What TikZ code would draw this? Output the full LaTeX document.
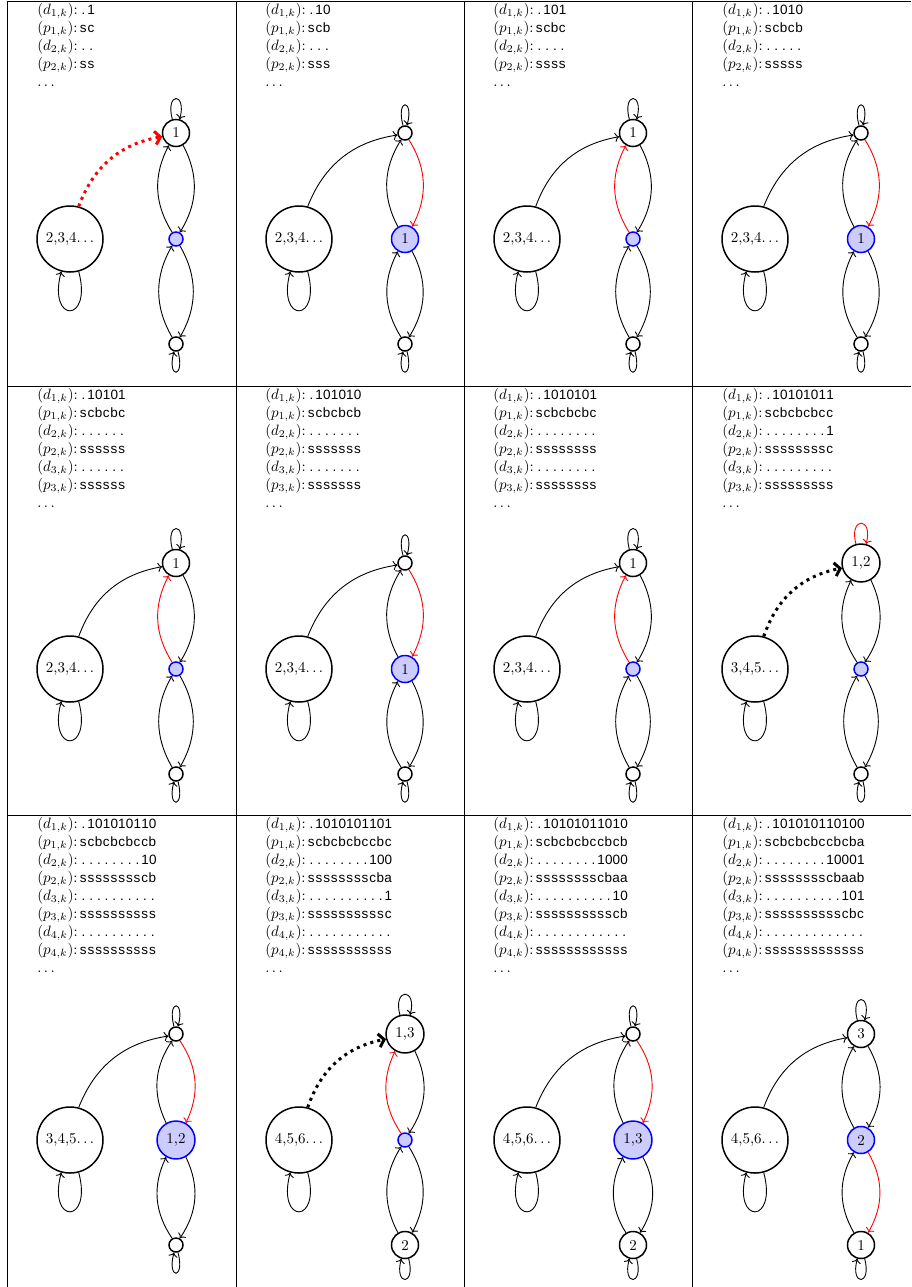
\documentclass[tikz,border=0pt]{standalone}
\usepackage{fontspec}
\newfontfamily\seqfont{Liberation Sans}
\usetikzlibrary{arrows.meta}
\newlength\sqw \setlength\sqw{5.13pt}
\newcommand\sq[1]{\kern1.2pt{\seqfont\fontsize{9}{12}\selectfont\sqloop#1\relax}}
\def\sqloop#1{\ifx\relax#1\else\makebox[\sqw][c]{#1}\expandafter\sqloop\fi}
\newcommand\etc{$\dots$}
\tikzset{
 base/.style={circle, draw, line width=1pt, inner sep=0pt, font=\fontsize{10}{12}\selectfont},
 sm/.style={base, minimum size=9.33pt},
 one/.style={base, minimum size=18pt},
 two/.style={base, minimum size=25.3pt},
 bigst/.style={base, minimum size=44pt},
 blst/.style={fill=blue!20, draw=blue},
 edge/.style={->, line width=0.6pt},
 ebig/.style={edge}, eup/.style={edge}, edn/.style={edge}, eup2/.style={edge}, edn2/.style={edge},
 ltop/.style={edge}, lbot/.style={edge}, lbig/.style={edge},
 dotbig/.style={line width=2pt, dash pattern=on 2pt off 2.8pt, -{Straight Barb[length=3.5pt,width=9pt,line width=2pt]}},
 hot/.style={edge, red},
 grid/.style={line width=0.6pt},
 hdr/.style={anchor=north west, align=left, inner sep=0pt, font=\fontsize{10}{12}\selectfont},
}
\newcommand\grph[8]{%
  \node[bigst] (#1big) at (63,-106) {#2};
  \node[#3] (#1top) at (169,0) {#4};
  \node[#5, blst] (#1mid) at (169,-106) {#6};
  \node[#7] (#1bot) at (169,-211) {#8};
  \draw[ebig] (#1big) to[bend left=30] (#1top);
  \draw[eup] (#1mid) to[bend left=30] (#1top);
  \draw[edn] (#1top) to[bend left=30] (#1mid);
  \draw[eup2] (#1bot) to[bend left=30] (#1mid);
  \draw[edn2] (#1mid) to[bend left=30] (#1bot);
  \draw[ltop] (#1top.105) .. controls +(105:19pt) and +(75:19pt) .. (#1top.75);
  \draw[lbot] (#1bot.-75) .. controls +(-75:19pt) and +(-105:19pt) .. (#1bot.-105);
  \draw[lbig] (#1big.-75) .. controls +(-75:36pt) and +(-105:36pt) .. (#1big.-105);
}
\begin{document}
\begin{tikzpicture}[x=0.6667pt, y=0.6667pt]
\useasboundingbox (0,0) rectangle (911,-1287);
% table rules
\draw[grid] (7,-1) -- (911,-1);
\draw[grid] (7,-386) -- (911,-386);
\draw[grid] (7,-815) -- (911,-815);
\foreach \x in {7,236,464,692} \draw[grid] (\x,-1) -- (\x,-1287);
% ---------- row 1 ----------
\node[hdr] (t1) at (37,-3) {$(d_{1,k})$:\sq{.1}\\$(p_{1,k})$:\sq{sc}\\$(d_{2,k})$:\sq{..}\\$(p_{2,k})$:\sq{ss}\\\etc};
\node[hdr] (t2) at (265,-3) {$(d_{1,k})$:\sq{.10}\\$(p_{1,k})$:\sq{scb}\\$(d_{2,k})$:\sq{...}\\$(p_{2,k})$:\sq{sss}\\\etc};
\node[hdr] (t3) at (493,-3) {$(d_{1,k})$:\sq{.101}\\$(p_{1,k})$:\sq{scbc}\\$(d_{2,k})$:\sq{....}\\$(p_{2,k})$:\sq{ssss}\\\etc};
\node[hdr] (t4) at (722,-3) {$(d_{1,k})$:\sq{.1010}\\$(p_{1,k})$:\sq{scbcb}\\$(d_{2,k})$:\sq{.....}\\$(p_{2,k})$:\sq{sssss}\\\etc};
\begin{scope}[shift={(7,-133)}, ebig/.style={dotbig, red}]
  \grph{pa}{2,3,4\etc}{one}{1}{sm}{}{sm}{}
\end{scope}
\begin{scope}[shift={(236,-133)}, edn/.style={hot}]
  \grph{pb}{2,3,4\etc}{sm}{}{one}{1}{sm}{}
\end{scope}
\begin{scope}[shift={(464,-133)}, eup/.style={hot}]
  \grph{pc}{2,3,4\etc}{one}{1}{sm}{}{sm}{}
\end{scope}
\begin{scope}[shift={(692,-133)}, edn/.style={hot}]
  \grph{pd}{2,3,4\etc}{sm}{}{one}{1}{sm}{}
\end{scope}
% ---------- row 2 ----------
\node[hdr] (t5) at (37,-388) {$(d_{1,k})$:\sq{.10101}\\$(p_{1,k})$:\sq{scbcbc}\\$(d_{2,k})$:\sq{......}\\$(p_{2,k})$:\sq{ssssss}\\$(d_{3,k})$:\sq{......}\\$(p_{3,k})$:\sq{ssssss}\\\etc};
\node[hdr] (t6) at (265,-388) {$(d_{1,k})$:\sq{.101010}\\$(p_{1,k})$:\sq{scbcbcb}\\$(d_{2,k})$:\sq{.......}\\$(p_{2,k})$:\sq{sssssss}\\$(d_{3,k})$:\sq{.......}\\$(p_{3,k})$:\sq{sssssss}\\\etc};
\node[hdr] (t7) at (493,-388) {$(d_{1,k})$:\sq{.1010101}\\$(p_{1,k})$:\sq{scbcbcbc}\\$(d_{2,k})$:\sq{........}\\$(p_{2,k})$:\sq{ssssssss}\\$(d_{3,k})$:\sq{........}\\$(p_{3,k})$:\sq{ssssssss}\\\etc};
\node[hdr] (t8) at (722,-388) {$(d_{1,k})$:\sq{.10101011}\\$(p_{1,k})$:\sq{scbcbcbcc}\\$(d_{2,k})$:\sq{........1}\\$(p_{2,k})$:\sq{ssssssssc}\\$(d_{3,k})$:\sq{.........}\\$(p_{3,k})$:\sq{sssssssss}\\\etc};
\begin{scope}[shift={(7,-563)}, eup/.style={hot}]
  \grph{pe}{2,3,4\etc}{one}{1}{sm}{}{sm}{}
\end{scope}
\begin{scope}[shift={(236,-563)}, edn/.style={hot}]
  \grph{pf}{2,3,4\etc}{sm}{}{one}{1}{sm}{}
\end{scope}
\begin{scope}[shift={(464,-563)}, eup/.style={hot}]
  \grph{pg}{2,3,4\etc}{one}{1}{sm}{}{sm}{}
\end{scope}
\begin{scope}[shift={(692,-563)}, ebig/.style={dotbig}, ltop/.style={hot}]
  \grph{ph}{3,4,5\etc}{two}{1,2}{sm}{}{sm}{}
\end{scope}
% ---------- row 3 ----------
\node[hdr] (t9) at (37,-817) {$(d_{1,k})$:\sq{.101010110}\\$(p_{1,k})$:\sq{scbcbcbccb}\\$(d_{2,k})$:\sq{........10}\\$(p_{2,k})$:\sq{sssssssscb}\\$(d_{3,k})$:\sq{..........}\\$(p_{3,k})$:\sq{ssssssssss}\\$(d_{4,k})$:\sq{..........}\\$(p_{4,k})$:\sq{ssssssssss}\\\etc};
\node[hdr] (t10) at (265,-817) {$(d_{1,k})$:\sq{.1010101101}\\$(p_{1,k})$:\sq{scbcbcbccbc}\\$(d_{2,k})$:\sq{........100}\\$(p_{2,k})$:\sq{sssssssscba}\\$(d_{3,k})$:\sq{..........1}\\$(p_{3,k})$:\sq{ssssssssssc}\\$(d_{4,k})$:\sq{...........}\\$(p_{4,k})$:\sq{sssssssssss}\\\etc};
\node[hdr] (t11) at (493,-817) {$(d_{1,k})$:\sq{.10101011010}\\$(p_{1,k})$:\sq{scbcbcbccbcb}\\$(d_{2,k})$:\sq{........1000}\\$(p_{2,k})$:\sq{sssssssscbaa}\\$(d_{3,k})$:\sq{..........10}\\$(p_{3,k})$:\sq{sssssssssscb}\\$(d_{4,k})$:\sq{............}\\$(p_{4,k})$:\sq{ssssssssssss}\\\etc};
\node[hdr] (t12) at (722,-817) {$(d_{1,k})$:\sq{.101010110100}\\$(p_{1,k})$:\sq{scbcbcbccbcba}\\$(d_{2,k})$:\sq{........10001}\\$(p_{2,k})$:\sq{sssssssscbaab}\\$(d_{3,k})$:\sq{..........101}\\$(p_{3,k})$:\sq{sssssssssscbc}\\$(d_{4,k})$:\sq{.............}\\$(p_{4,k})$:\sq{sssssssssssss}\\\etc};
\begin{scope}[shift={(7,-1034)}, edn/.style={hot}]
  \grph{pi}{3,4,5\etc}{sm}{}{two}{1,2}{sm}{}
\end{scope}
\begin{scope}[shift={(236,-1034)}, ebig/.style={dotbig}, eup/.style={hot}]
  \grph{pj}{4,5,6\etc}{two}{1,3}{sm}{}{one}{2}
\end{scope}
\begin{scope}[shift={(464,-1034)}, edn/.style={hot}]
  \grph{pk}{4,5,6\etc}{sm}{}{two}{1,3}{one}{2}
\end{scope}
\begin{scope}[shift={(692,-1034)}, edn2/.style={hot}]
  \grph{pl}{4,5,6\etc}{one}{3}{one}{2}{one}{1}
\end{scope}
\end{tikzpicture}
\end{document}
